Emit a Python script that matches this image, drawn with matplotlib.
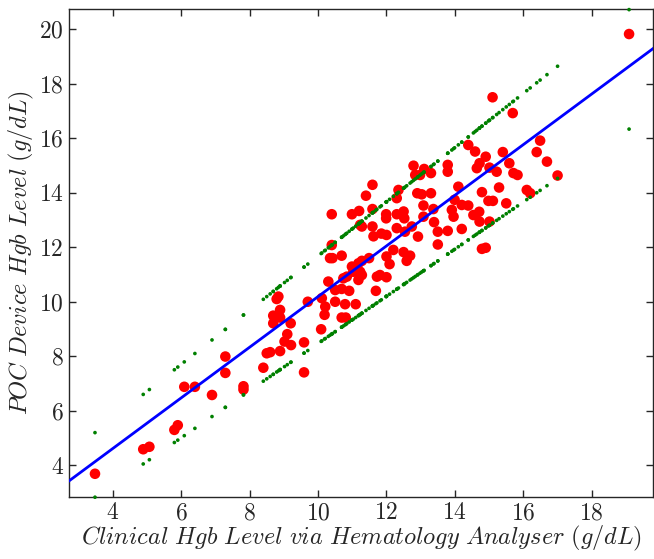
import numpy as np
import matplotlib
matplotlib.use("Agg")
from matplotlib import pyplot as plt

# clinical (x) vs POC device (y) Hgb readings, g/dL
clinical_hgb = [
    3.48, 4.89, 5.07, 5.80, 5.90, 6.09, 6.40, 6.90, 7.29, 7.29, 7.82, 7.82,
    8.40, 8.50, 8.60, 8.89, 9.02, 9.21, 9.10, 8.69, 9.20, 8.69, 8.89, 8.89,
    8.84, 8.79, 9.59, 9.59, 9.70, 10.09, 10.11, 10.21, 10.19, 10.50, 10.79,
    11.10, 10.69, 10.81, 10.30, 10.50, 10.69, 10.91, 10.84, 10.74, 11.03,
    11.23, 11.28, 11.18, 11.28, 11.18, 10.99, 11.49, 11.72, 11.81, 12.00,
    11.69, 12.09, 12.59, 12.50, 12.69, 12.00, 12.20, 13.50, 10.40, 10.35,
    10.42, 10.69, 11.62, 11.85, 12.00, 12.92, 14.79, 14.90,
    11.59, 11.40, 10.40, 10.99, 11.20, 11.59, 11.23, 11.28, 11.59, 11.99,
    11.99, 12.30, 12.35, 12.30, 12.30,
    15.10, 15.69, 16.49, 16.39, 16.69, 17.00, 14.39, 14.59, 14.90, 14.72,
    14.64, 15.40, 15.59, 15.01, 15.22, 15.71, 15.83, 13.79, 13.79, 12.79,
    13.10, 13.30, 12.84, 12.98, 14.10, 15.29, 14.79, 14.98, 15.11, 15.50,
    16.10, 16.20, 13.99, 14.20, 14.39, 13.91, 13.96, 13.37, 14.71, 14.54,
    14.72, 15.01, 12.90, 13.03, 13.30, 12.50, 12.52, 13.08, 13.08, 13.39,
    12.74, 13.50, 13.79, 14.20, 12.54,
    19.09,
]
poc_hgb = [
    3.69, 4.59, 4.68, 5.30, 5.47, 6.88, 6.88, 6.58, 7.99, 7.39, 6.90, 6.78,
    7.58, 8.11, 8.15, 8.19, 8.54, 8.41, 8.81, 9.21, 9.21, 9.49, 9.42, 9.70,
    10.19, 10.10, 8.51, 7.41, 10.00, 8.99, 10.13, 9.82, 9.52, 10.00, 9.91,
    9.91, 9.42, 9.42, 10.74, 10.43, 10.47, 10.40, 10.92, 10.86, 11.10,
    11.10, 10.98, 10.80, 11.50, 11.41, 11.29, 11.60, 10.92, 10.98, 10.90,
    10.40, 11.38, 11.50, 11.82, 11.69, 11.66, 11.90, 12.10, 12.08, 11.60,
    11.60, 11.69, 12.40, 12.50, 12.45, 12.39, 11.94, 11.98,
    14.29, 13.89, 13.21, 13.21, 13.33, 13.40, 12.82, 12.76, 12.76, 13.21,
    13.06, 13.21, 14.10, 13.80, 12.70,
    17.50, 16.92, 15.91, 15.49, 15.14, 14.63, 15.75, 15.51, 15.32, 15.08,
    14.90, 15.49, 15.08, 14.92, 14.77, 14.72, 14.65, 15.02, 14.77, 14.99,
    14.87, 14.72, 14.65, 14.65, 14.22, 14.19, 14.02, 13.70, 13.70, 13.61,
    14.10, 13.98, 13.74, 13.55, 13.53, 13.37, 13.12, 13.40, 13.30, 13.18,
    12.94, 12.94, 13.98, 13.94, 13.98, 13.31, 13.06, 13.53, 13.12, 12.92,
    12.76, 12.57, 12.60, 12.67, 12.57,
    19.82,
]

# fitted line and band coefficients (slope, intercept)
fit_coef = (0.929, 0.90)
upper_coef = (0.994, 1.74)
lower_coef = (0.865, -0.18)

x_limits = (2.73, 19.79)
y_limits = (2.85, 20.73)
x_ticks = [4, 6, 8, 10, 12, 14, 16, 18]
y_ticks = [4, 6, 8, 10, 12, 14, 16, 18, 20]

plt.rcParams['mathtext.fontset'] = 'cm'
plt.rcParams['font.family'] = 'serif'
plt.rcParams['font.serif'] = ['cmr10']
plt.rcParams['axes.formatter.use_mathtext'] = True

x = np.array(clinical_hgb)
y = np.array(poc_hgb)

fig = plt.figure(figsize=(6.54, 5.59), dpi=100)
ax = fig.add_axes([0.106, 0.1115, 0.8925, 0.872])

ax.scatter(x, y, s=58, color='red', edgecolors='none', zorder=2)
xl = np.array(x_limits)
ax.plot(xl, fit_coef[0] * xl + fit_coef[1], color='blue', lw=2, zorder=3)
ax.scatter(x, upper_coef[0] * x + upper_coef[1], s=7, color='green',
           edgecolors='none', zorder=4, clip_on=False)
ax.scatter(x, lower_coef[0] * x + lower_coef[1], s=7, color='green',
           edgecolors='none', zorder=4, clip_on=False)

ax.set_xlim(x_limits)
ax.set_ylim(y_limits)
ax.set_xticks(x_ticks)
ax.set_yticks(y_ticks)
ax.tick_params(direction='in', top=True, right=True, length=5, width=1,
               labelsize=17, colors='#262626', pad=4)
for s in ax.spines.values():
    s.set_color('#262626')
    s.set_linewidth(1)

ax.set_xlabel(r'$Clinical\ Hgb\ Level\ via\ Hematology\ Analyser\ (g/dL)$',
              fontsize=17.5, color='#262626', labelpad=0)
ax.set_ylabel(r'$POC\ Device\ Hgb\ Level\ (g/dL)$',
              fontsize=17.5, color='#262626', labelpad=2)

fig.savefig('out.png', dpi=100)
